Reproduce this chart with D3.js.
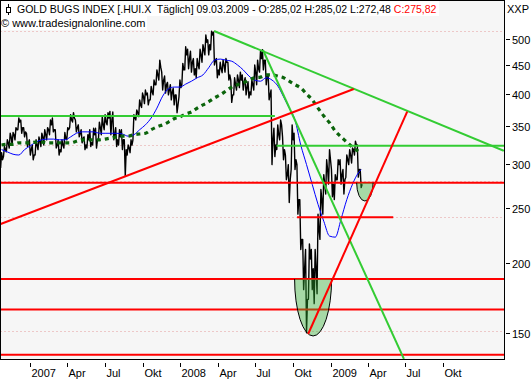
<!DOCTYPE html>
<html><head><meta charset="utf-8">
<script src="https://cdn.jsdelivr.net/npm/d3@7"></script>
<style>body{margin:0;background:#fff}svg{display:block}text{font-family:"Liberation Sans",Arial,sans-serif;white-space:pre}</style>
</head><body><svg id="c" width="532" height="380"></svg>
<script>
// ---- data ----
const weekStart = "2006-10-23";
const priceHigh = [314,322,331,340,341,348,362,359,348,340,331,324,331,335,340,345,348,359,362,345,331,331,341,348,367,370,359,352,345,335,338,345,347,347,356,364,367,370,372,371,348,345,345,331,324,331,367,374,390,401,406,401,412,423,441,459,437,430,419,415,409,398,423,453,485,480,476,462,462,480,489,509,499,517,515,462,455,459,462,455,423,427,432,437,432,427,420,423,450,459,476,479,459,432,406,347,352,359,335,311,299,352,340,299,259,220,211,216,211,211,244,270,287,305,318,293,287,305,305,293,311,318,320,329,324,293];
const priceLow = [295,309,315,320,324,331,345,340,335,322,311,305,311,318,322,324,331,338,342,320,311,315,320,331,348,356,342,335,327,318,320,322,324,320,331,338,345,352,338,331,322,324,318,285,311,314,331,359,364,378,384,382,390,398,415,423,406,401,398,390,382,370,395,415,441,443,437,432,427,443,455,469,469,479,450,427,432,436,437,423,386,398,406,410,406,398,393,398,406,415,437,441,415,390,299,309,318,331,305,281,256,293,293,244,211,179,150,172,179,169,176,220,244,265,276,262,259,281,276,265,284,299,301,311,284,272];
const priceClose = [305,318,327,335,338,345,356,348,342,327,318,311,324,329,335,338,345,352,345,324,318,324,333,345,359,362,348,340,333,324,331,327,338,331,348,352,356,362,359,338,331,335,331,318,320,324,362,370,382,395,398,390,403,415,432,446,423,415,406,403,398,382,410,441,469,462,455,443,450,469,479,494,489,509,459,441,443,450,455,432,398,415,423,423,420,410,403,415,437,443,462,459,432,398,331,324,338,352,318,287,281,331,305,259,220,195,172,203,195,195,229,259,276,293,305,276,281,299,287,281,305,311,318,324,293,275.82];
// moving averages, sampled every second week (last value = last week)
const maBlue = [318,315,312,311,318,323,328,331,332,332,331,331,335,340,342,342,342,340,340,340,340,339,336,338,345,352,362,377,396,408,411,411,416,421,427,432,445,459,461,459,457,450,441,430,423,421,427,423,413,395,377,359,324,299,275.5,254,237,223,222,239,259,276,289,293];
const maGreen = [324,325,325,327,327,327,328,328,327,327,327,327,327,329,331,331,331,331,332,333.5,335,336,336,338,339,340,345,349,352,356,361,363.5,368,371,377,382,387,393,398,404.5,411,415,418,423,427,428,432,432,430,427,421,415,409.5,399.5,390,377,365,355,343,335,328,321,316,314];

const yTicks = [150,200,250,300,350,400,450,500];
const xTickDates = ["2007-01-01","2007-04-01","2007-07-01","2007-10-01","2008-01-01","2008-04-01","2008-07-01","2008-10-01","2009-01-01","2009-04-01","2009-07-01","2009-10-01"];
const xTickLabels = ["2007","Apr","Jul","Okt","2008","Apr","Jul","Okt","2009","Apr","Jul","Okt"];

const gridLevels = [517, 323.6, 279, 241.6, 151];
const redLevels = [277.5, 187, 165, 137];
const greenSegments = [[365,"2006-10-01","2008-08-18"],[323,"2008-08-22","2010-04-01"]];
const redSegments = [[241,"2008-10-11","2009-06-02"]];
const greenTrends = [[["2008-03-23",517.3],["2010-02-26",316.5]],[["2008-07-20",478.5],["2009-06-28",134.7]]];
const redTrends = [[["2006-10-15",233.4],["2009-02-26",407.8]],[["2008-11-07",149.2],["2009-07-06",371.5]]];
const bowls = [["2008-10-05","2009-01-03",187,148],["2009-03-05","2009-04-14",277.5,257.5]];

const headerMain = "GOLD BUGS INDEX [.HUI.X  Täglich] 09.03.2009 - O:285,02 H:285,02 L:272,48 ";
const headerClose = "C:275,82";
const headerSite = "© www.tradesignalonline.com";
const currency = "XXP";

// ---- drawing ----
const parse = d3.timeParse("%Y-%m-%d");
const svg = d3.select("#c");
const L = 0.5, T = 0.5, R = 504.5, B = 359.5;
const x = d3.scaleTime().domain([parse("2007-01-01"), parse("2009-10-01")]).range([30.33, 442.97]);
const y = d3.scaleLog().domain([500,150]).range([39.3,332.7]);
const dates = priceClose.map((_, i) => d3.timeDay.offset(parse(weekStart), 7 * i));
const maIdx = d3.range(0, priceClose.length - 1, 2).concat([priceClose.length - 1]);
const maDates = maIdx.map(i => dates[i]);

svg.append("rect").attr("width",532).attr("height",380).attr("fill","#fff");
svg.append("rect").attr("x",L).attr("y",T).attr("width",R-L).attr("height",B-T).attr("fill","#f6f6f6");
svg.append("clipPath").attr("id","pc").append("rect").attr("x",1).attr("y",1).attr("width",503).attr("height",358);
const g = svg.append("g").attr("clip-path","url(#pc)");

// dotted grid
g.selectAll(".grid").data(gridLevels).join("line")
  .attr("x1",L).attr("x2",R).attr("y1",d=>Math.round(y(d))+0.5).attr("y2",d=>Math.round(y(d))+0.5)
  .attr("stroke","#e49a9a").attr("stroke-width",1).attr("stroke-dasharray","1,3");

// price
const pts = [];
priceClose.forEach((c, i) => {
  const xi = x(dates[i]);
  const prev = i ? priceClose[i-1] : c;
  const up = c >= prev;
  const a = up ? priceLow[i] : priceHigh[i];
  const b = up ? priceHigh[i] : priceLow[i];
  pts.push([xi-0.96, y(a)], [xi, y(b)], [xi+0.96, y(c)]);
});
g.append("path").attr("d", d3.line()(pts)).attr("fill","none").attr("stroke","#000").attr("stroke-width",1.4).attr("stroke-linejoin","round");

// moving averages
g.append("path").attr("d", d3.line().x((d,i)=>x(maDates[i])).y(d=>y(d)).curve(d3.curveMonotoneX)(maBlue))
  .attr("fill","none").attr("stroke","#0000ff").attr("stroke-width",1);
g.append("path").attr("d", d3.line().x((d,i)=>x(maDates[i])).y(d=>y(d)).curve(d3.curveMonotoneX)(maGreen))
  .attr("fill","none").attr("stroke","#0b640b").attr("stroke-width",3.2).attr("stroke-dasharray","4,4");

// horizontal levels
g.selectAll(".rl").data(redLevels).join("line")
  .attr("x1",L).attr("x2",R).attr("y1",d=>y(d)).attr("y2",d=>y(d)).attr("stroke","#ff0000").attr("stroke-width",2);
g.selectAll(".gs").data(greenSegments).join("line")
  .attr("x1",d=>x(parse(d[1]))).attr("x2",d=>x(parse(d[2]))).attr("y1",d=>y(d[0])).attr("y2",d=>y(d[0]))
  .attr("stroke","#33cc33").attr("stroke-width",2);
g.selectAll(".rs").data(redSegments).join("line")
  .attr("x1",d=>x(parse(d[1]))).attr("x2",d=>x(parse(d[2]))).attr("y1",d=>y(d[0])).attr("y2",d=>y(d[0]))
  .attr("stroke","#ff0000").attr("stroke-width",2);

// bowls (half ellipses)
bowls.forEach(([a,b,top,bot]) => {
  const x0 = x(parse(a)), x1 = x(parse(b)), yt = y(top), yb = y(bot);
  const rx = (x1-x0)/2, ry = yb-yt;
  g.append("path").attr("d",`M${x0},${yt}A${rx},${ry} 0 0 0 ${x1},${yt}Z`).attr("fill","#30b030").attr("fill-opacity",0.4);
  g.append("path").attr("d",`M${x0},${yt}A${rx},${ry} 0 0 0 ${x1},${yt}`).attr("fill","none").attr("stroke","#000").attr("stroke-width",1);
});

// trend lines
const seg = (sel, data, col) => g.selectAll(sel).data(data).join("line")
  .attr("x1",d=>x(parse(d[0][0]))).attr("y1",d=>y(d[0][1])).attr("x2",d=>x(parse(d[1][0]))).attr("y2",d=>y(d[1][1]))
  .attr("stroke",col).attr("stroke-width",2);
seg(".gt", greenTrends, "#33cc33");
seg(".rt", redTrends, "#ff0000");

// frame
svg.append("rect").attr("x",L).attr("y",T).attr("width",R-L).attr("height",B-T).attr("fill","none").attr("stroke","#000");

// y axis
const ya = svg.append("g");
yTicks.forEach(v => {
  const yy = Math.round(y(v)) + 0.5;
  ya.append("line").attr("x1",506).attr("x2",510).attr("y1",yy).attr("y2",yy).attr("stroke","#000");
  ya.append("text").attr("x",512).attr("y",yy+4).attr("font-size",11).text(v);
});
// x axis
xTickDates.forEach((d,i) => {
  const xx = Math.round(x(parse(d))) + 0.5;
  svg.append("line").attr("x1",xx).attr("x2",xx).attr("y1",363).attr("y2",367).attr("stroke","#000");
  svg.append("text").attr("x",xx+1).attr("y",377).attr("font-size",11).text(xTickLabels[i]);
});

// header
svg.append("rect").attr("x",1).attr("y",1).attr("width",438).attr("height",15).attr("fill","#fff");
svg.append("rect").attr("x",1).attr("y",16).attr("width",146).attr("height",14).attr("fill","#fff");
svg.append("line").attr("x1",8.5).attr("x2",8.5).attr("y1",4).attr("y2",15).attr("stroke","#000");
svg.append("rect").attr("x",6.5).attr("y",7.5).attr("width",4).attr("height",5).attr("fill","#fff").attr("stroke","#000");
const ht = svg.append("text").attr("x",17).attr("y",13).attr("font-size",10.5);
ht.append("tspan").attr("fill","#000").text(headerMain);
ht.append("tspan").attr("fill","#ff0000").text(headerClose);
svg.append("text").attr("x",1).attr("y",27).attr("font-size",11).text(headerSite);
svg.append("text").attr("x",507).attr("y",13).attr("font-size",11).text(currency);
</script></body></html>
